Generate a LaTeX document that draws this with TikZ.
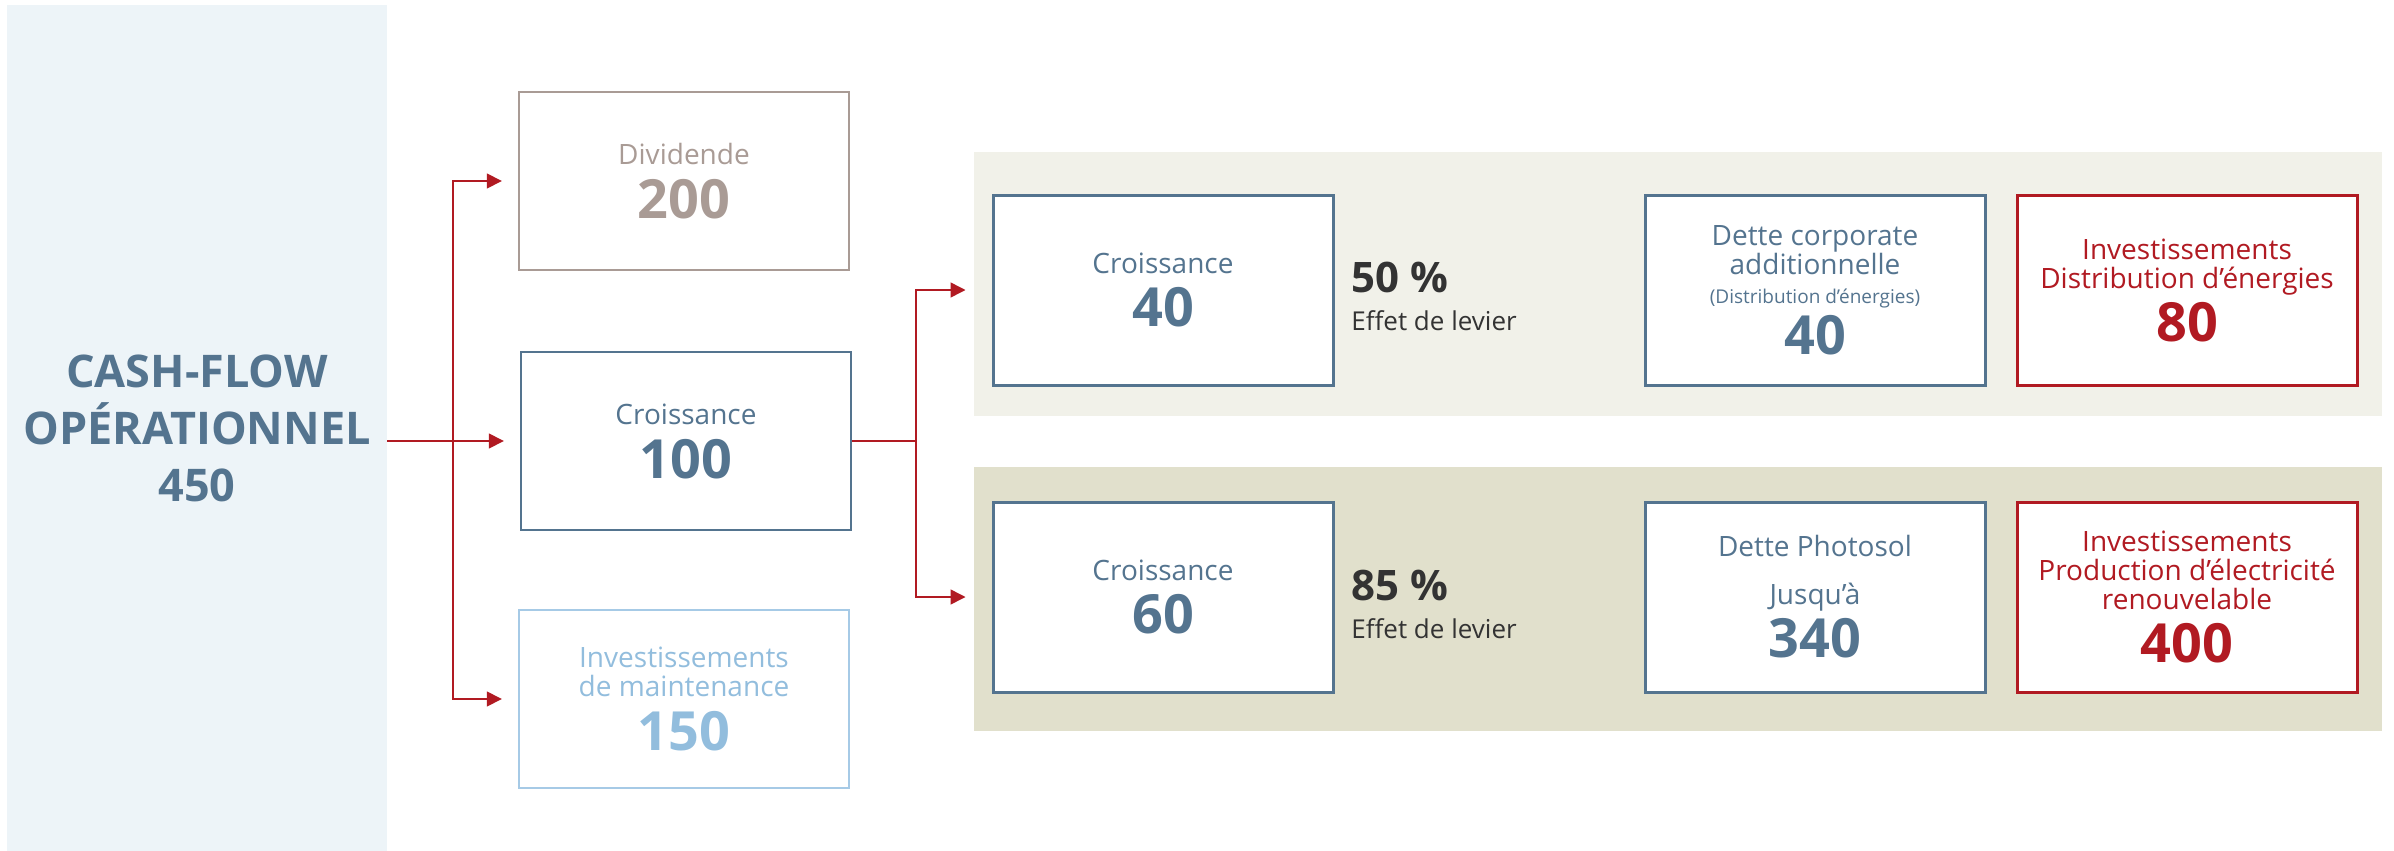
\documentclass[tikz,border=0pt]{standalone}
\usepackage{fontspec}
\setmainfont{Open Sans}
\usetikzlibrary{arrows.meta,calc}
\definecolor{panelbg}{HTML}{EDF4F8}
\definecolor{steel}{HTML}{54748F}
\definecolor{taupe}{HTML}{A99B95}
\definecolor{skyline}{HTML}{A6CAE6}
\definecolor{skytext}{HTML}{92BDDD}
\definecolor{flowred}{HTML}{B11A22}
\definecolor{bandlight}{HTML}{F1F1E9}
\definecolor{banddark}{HTML}{E1E0CC}
\definecolor{darktext}{HTML}{333333}
\newcommand{\bignum}[1]{{\fontsize{27}{27}\selectfont\bfseries #1}}
\tikzset{
  every scope/.style={>={Triangle[length=7.5pt,width=7.5pt]}},
  txt/.style={align=center,font={\fontsize{14}{14.5}\selectfont\lineskiplimit=-30pt}},
  leftbox/.style={txt,draw,line width=1.2pt,minimum width=165pt,minimum height=89pt,inner sep=0pt},
  bandbox/.style={txt,draw,line width=1.5pt,fill=white,minimum width=170pt,minimum height=95pt,inner sep=0pt},
  band/.style={minimum width=704pt,minimum height=132pt,inner sep=0pt},
  lever/.style={anchor=west,align=left,inner sep=0pt,text=darktext,font={\fontsize{13}{14}\selectfont\lineskiplimit=-30pt}},
  link/.style={flowred,line width=0.75pt},
  flow/.style={link,->,shorten >=8pt},
  flowband/.style={link,->,shorten >=13pt}
}
\begin{document}
\begin{tikzpicture}[x=0.5pt,y=-0.5pt]
  \useasboundingbox (0,0) rectangle (2394,851);
  \node[fill=panelbg,minimum width=190pt,minimum height=423pt,inner sep=0pt,align=center,text=steel,
        font={\fontsize{22.5}{28.5}\selectfont\bfseries}] (cashflow) at (197,428) {CASH-FLOW\\OPÉRATIONNEL\\450};

  \node[leftbox,draw=taupe,text=taupe] (div) at (684,181) {Dividende\\[12.5pt]\bignum{200}};
  \node[leftbox,draw=steel,text=steel] (cro) at (686,441) {Croissance\\[12.5pt]\bignum{100}};
  \node[leftbox,draw=skyline,text=skytext] (mnt) at (684,699) {Investissements\\de maintenance\\[12.5pt]\bignum{150}};

  \node[band,fill=bandlight] (band1) at (1678,284) {};
  \node[band,fill=banddark] (band2) at (1678,599) {};

  \node[bandbox,draw=steel,text=steel] (cr1) at (1163,290) {Croissance\\[12pt]\bignum{40}};
  \node[bandbox,draw=steel,text=steel] (dc) at (1815,290) {Dette corporate\\additionnelle\\[0pt]{\fontsize{9.5}{10}\selectfont(Distribution d’énergies)}\\[11pt]\bignum{40}};
  \node[bandbox,draw=flowred,text=flowred] (inv1) at (2187,290) {Investissements\\Distribution d’énergies\\[12pt]\bignum{80}};
  \node[lever] (lev1) at (1351,296) {{\fontsize{21}{21}\selectfont\bfseries 50 \%}\\[5pt]Effet de levier};

  \node[bandbox,draw=steel,text=steel] (cr2) at (1163,597) {Croissance\\[12pt]\bignum{60}};
  \node[bandbox,draw=steel,text=steel] (dp) at (1815,597) {Dette Photosol\\[9.5pt]Jusqu’à\\[12pt]\bignum{340}};
  \node[bandbox,draw=flowred,text=flowred] (inv2) at (2187,597) {Investissements\\Production d’électricité\\renouvelable\\[12pt]\bignum{400}};
  \node[lever] (lev2) at (1351,604) {{\fontsize{21}{21}\selectfont\bfseries 85 \%}\\[5pt]Effet de levier};

  \coordinate (split1) at (453,441);
  \coordinate (split2) at (916,441);
  \draw[flow] (cashflow.east |- cro.west) -- (cro.west);
  \draw[flow] (split1) |- (div.west);
  \draw[flow] (split1) |- (mnt.west);
  \draw[link] (cro.east) -- (split2);
  \draw[flowband] (split2) |- (cr1.west);
  \draw[flowband] (split2) |- (cr2.west);
\end{tikzpicture}
\end{document}
